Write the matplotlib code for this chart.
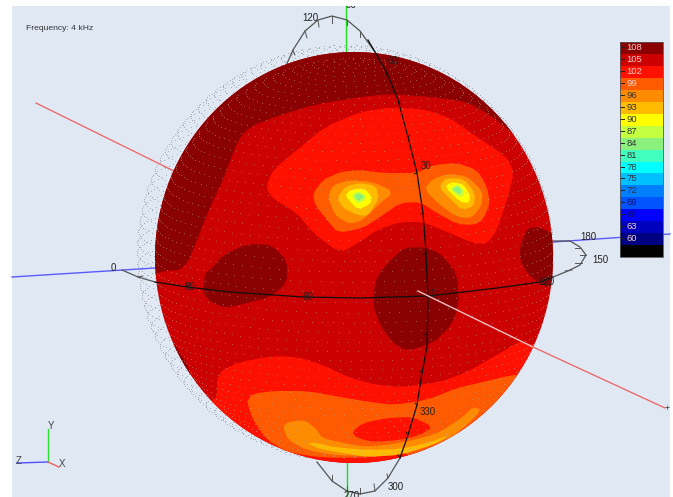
import numpy as np
import matplotlib
matplotlib.use("Agg")
import matplotlib.pyplot as plt
from matplotlib.patches import Ellipse, Rectangle, Polygon

plt.rcParams["font.family"] = ["Liberation Sans", "DejaVu Sans"]

# colour scale
levels = [108, 105, 102, 99, 96, 93, 90, 87, 84, 81, 78, 75, 72, 69, 66, 63, 60]
level_colors = ["#8b0000", "#cc0000", "#ff1100", "#ff5a00", "#ff8c00", "#ffbb00", "#ffff00",
                "#c4ff40", "#8cf07c", "#40ffbf", "#00ffff", "#00bfff", "#0080ff", "#0055ff",
                "#0000ff", "#0000bf", "#000080"]
color_of = dict(zip(levels, level_colors))
light_labels = [108, 105, 102, 99, 63, 60]

# contour regions (level, outline in image pixels)
dark_top = [(140, 290), (155, 274), (165, 271), (180, 270), (188, 262), (195, 245), (210, 207), (223, 180),
            (238, 140), (250, 127), (277, 116), (313, 105), (360, 97), (390, 94), (433, 97), (467, 102),
            (490, 115), (517, 137), (537, 163), (545, 187), (552, 213), (570, 220), (570, 30), (130, 30)]
dark_left_blob = [(205, 273), (210, 270), (223, 255), (247, 244), (272, 245), (287, 261), (287, 283), (270, 297),
                  (247, 303), (227, 308), (212, 303), (203, 293)]
dark_centre_blob = [(383, 268), (403, 248), (423, 247), (440, 253), (457, 273), (459, 307), (450, 327), (433, 343),
                    (407, 351), (393, 343), (380, 325), (373, 305), (375, 282)]
dark_right_blob = [(520, 247), (527, 228), (540, 227), (560, 238), (560, 285), (543, 287), (527, 273), (520, 260)]
dark_low_blob = [(165, 337), (177, 347), (190, 370), (190, 385), (170, 385), (150, 350)]

red_upper = [(360, 112), (393, 107), (427, 110), (450, 118), (477, 137), (507, 157), (514, 173), (507, 200),
             (497, 230), (487, 244), (473, 243), (447, 232), (423, 222), (400, 222), (377, 230), (360, 242),
             (340, 253), (313, 233), (297, 213), (272, 198), (266, 187), (273, 170), (297, 150), (325, 127)]
red_lower = [(205, 402), (208, 402), (217, 397), (217, 380), (222, 370), (240, 362), (273, 356), (297, 357),
             (323, 365), (350, 378), (377, 385), (403, 387), (440, 382), (467, 372), (497, 355), (520, 341),
             (533, 345), (600, 350), (600, 520), (120, 520), (120, 402)]
orange_red_lower = [(247, 402), (252, 394), (273, 391), (307, 391), (340, 397), (370, 402), (393, 405), (427, 400),
                    (457, 388), (483, 382), (512, 375), (530, 375), (500, 440), (410, 456), (400, 451), (373, 457),
                    (340, 458), (317, 457), (287, 452), (267, 440), (253, 420)]
orange_red_peak = [(313, 193), (323, 180), (340, 172), (360, 170), (383, 173), (417, 173), (433, 165), (457, 163),
                   (477, 170), (487, 187), (490, 203), (483, 220), (473, 225), (457, 224), (437, 213), (420, 202),
                   (400, 203), (380, 217), (363, 228), (338, 233), (327, 220), (315, 205)]
red_island = [(352, 432), (363, 423), (387, 418), (413, 417), (433, 427), (420, 435), (400, 440), (373, 442), (357, 438)]

orange_left = [(328, 197), (333, 185), (350, 180), (373, 182), (394, 192), (378, 205), (363, 220), (350, 224),
               (337, 217), (332, 208)]
orange_right = [(424, 189), (433, 179), (447, 174), (467, 176), (483, 192), (481, 207), (471, 218), (457, 217), (440, 205)]
orange_lower = [(283, 427), (288, 422), (305, 420), (317, 430), (322, 438), (343, 443), (367, 447), (400, 443),
                (425, 437), (440, 432), (463, 417), (473, 407), (481, 410), (470, 422), (453, 436), (433, 445),
                (397, 453), (367, 456), (333, 455), (307, 450), (288, 440)]
amber_left = [(337, 198), (346, 186), (360, 183), (376, 186), (379, 198), (368, 216), (357, 215), (343, 208)]
amber_right = [(439, 187), (446, 178), (464, 179), (475, 193), (474, 206), (462, 210), (450, 199)]
amber_lower = [(307, 443), (317, 443), (333, 447), (367, 450), (400, 449), (427, 443), (450, 435), (433, 445),
               (400, 455), (367, 457), (343, 453), (320, 449)]
yellow_left = [(345, 196), (350, 190), (364, 188), (372, 197), (370, 204), (358, 210)]
yellow_right = [(445, 187), (451, 182), (463, 184), (470, 195), (469, 203), (460, 202)]
lime_left = [(351, 196), (358, 191), (366, 196), (365, 200), (358, 204)]
lime_right = [(450, 189), (457, 184), (464, 190), (463, 196), (459, 197)]
green_left = [(354, 196), (358, 193), (364, 196), (363, 198), (358, 201)]
green_right = [(452, 190), (457, 186), (462, 190), (460, 194)]

regions = [(108, dark_top), (108, dark_left_blob), (108, dark_centre_blob), (108, dark_right_blob), (108, dark_low_blob),
           (102, red_upper), (102, red_lower), (99, orange_red_lower), (99, orange_red_peak), (102, red_island),
           (96, orange_left), (96, orange_right), (96, orange_lower), (93, amber_left), (93, amber_right),
           (93, amber_lower), (90, yellow_left), (90, yellow_right), (87, lime_left), (87, lime_right),
           (84, green_left), (84, green_right)]

# polar curves and axis lines
meridian_back = [(285, 68), (293, 50), (305, 31), (318, 20), (332, 16), (347, 20), (360, 31), (375, 52)]
meridian_front = [(368, 40), (375, 52), (387, 73), (398, 100), (408, 137), (417, 173), (423, 213), (426, 253),
                  (428, 297), (427, 347), (422, 373), (417, 405), (408, 435), (400, 458)]
meridian_low = [(400, 458), (388, 478), (375, 491), (360, 494), (347, 491), (332, 481), (317, 462)]
equator_left = [(122, 270), (138, 277), (155, 282)]
equator_front = [(155, 282), (187, 287), (230, 292), (303, 297), (360, 298), (428, 296), (463, 292), (497, 288),
                 (540, 282), (553, 277)]
equator_right = [(553, 277), (568, 271), (580, 265), (586, 255), (580, 247), (570, 241), (553, 241)]
grey_ticks = [((293, 50), (295, 55)), ((305, 31), (307, 38)), ((318, 20), (319, 27)), ((332, 16), (332, 23)),
              ((347, 20), (347, 25)), ((360, 31), (360, 37)), ((332, 481), (332, 475)), ((347, 491), (347, 486)),
              ((360, 494), (360, 488)), ((375, 491), (374, 484)), ((388, 478), (387, 474)), ((580, 248), (575, 248)),
              ((586, 255), (580, 255)), ((582, 263), (575, 263)), ((572, 270), (565, 271)), ((138, 277), (143, 276))]
black_ticks = [((387, 73), (385, 76)), ((398, 100), (400, 104)), ((408, 137), (410, 135)), ((417, 173), (414, 174)),
               ((423, 213), (421, 214)), ((426, 253), (423, 254)), ((427, 335), (424, 334)), ((422, 373), (420, 371)),
               ((417, 405), (415, 403)), ((408, 435), (406, 432)), ((400, 458), (398, 455)), ((187, 287), (186, 284)),
               ((463, 292), (463, 289)), ((497, 288), (497, 285)), ((525, 284), (525, 281))]

polar_labels = [("90", 351, 5), ("120", 310, 18), ("60", 393, 61), ("30", 426, 166), ("0", 433, 294), ("330", 428, 412),
                ("300", 396, 487), ("270", 352, 496), ("0", 113, 268), ("30", 190, 287), ("60", 308, 297),
                ("120", 546, 282), ("180", 588, 237), ("150", 600, 260)]

fig = plt.figure(figsize=(6.73, 4.97), dpi=100)
ax = fig.add_axes([0, 0, 1, 1])
ax.set_xlim(0, 673)
ax.set_ylim(497, 0)
ax.axis("off")

panel = Rectangle((12, 6), 658, 491, facecolor="#dfe8f3", edgecolor="none", zorder=0)
ax.add_patch(panel)


def sphere_grid(cx, cy, r, step):
    # sample points of the result sphere, about the same spacing everywhere
    xs, ys, zs = [], [], []
    for lat_deg in np.arange(-90 + step, 90, step):
        lat = np.radians(lat_deg)
        count = max(int(360 / step * np.cos(lat)), 1)
        lon = np.arange(count) * 2 * np.pi / count + lat_deg
        xs.append(np.cos(lat) * np.sin(lon))
        ys.append(np.full(count, np.sin(lat)))
        zs.append(np.cos(lat) * np.cos(lon))
    x, y, z = np.concatenate(xs), np.concatenate(ys), np.concatenate(zs)
    t = np.radians(10)
    y2 = y * np.cos(t) - z * np.sin(t)
    z2 = y * np.sin(t) + z * np.cos(t)
    return cx + r * x, cy - r * y2, z2


def smooth(outline):
    # one round of corner cutting, the contour edges in the picture are soft
    pts = np.array(outline, dtype=float)
    nxt = np.roll(pts, -1, axis=0)
    return np.column_stack([0.8 * pts + 0.2 * nxt, 0.2 * pts + 0.8 * nxt]).reshape(-1, 2)


# halo of sample points behind the sphere
hx, hy, _ = sphere_grid(345, 253, 208, 3)
ax.scatter(hx, hy, s=0.5, color="#a6acb3", linewidths=0, zorder=1)

# axis lines behind the sphere
ax.plot([12, 155], [277, 268], color="#5a5aff", lw=1, zorder=2)
ax.plot([553, 670], [242, 234], color="#5a5aff", lw=1, zorder=2)
ax.plot([346, 346], [6, 52], color="#20e020", lw=1, zorder=2)
ax.plot([347, 347], [463, 497], color="#20e020", lw=1, zorder=2)
ax.plot([36, 178], [103, 173], color="#f06060", lw=0.9, zorder=2)
for curve in (meridian_back, meridian_low, equator_left, equator_right):
    ax.plot(*zip(*curve), color="#555555", lw=0.9, zorder=2)
for a, b in grey_ticks:
    ax.plot(*zip(a, b), color="#555555", lw=0.7, zorder=2)

# sphere and its contour bands
sphere = Ellipse((354, 257.5), 398, 411, facecolor=color_of[105], edgecolor="none", zorder=3)
ax.add_patch(sphere)
for level, outline in regions:
    band = Polygon(smooth(outline), closed=True, facecolor=color_of[level], edgecolor="none", zorder=4)
    ax.add_patch(band)
    band.set_clip_path(sphere)

fx, fy, fz = sphere_grid(354, 257.5, 200, 3)
front = fz > 0
dots = ax.scatter(fx[front], fy[front], s=0.7, color="#b8a890", linewidths=0, alpha=0.55, zorder=5)
dots.set_clip_path(sphere)

# curves and axis over the sphere
ax.plot(*zip(*meridian_front), color="#101010", lw=0.9, zorder=6)
ax.plot(*zip(*equator_front), color="#101010", lw=0.9, zorder=6)
for a, b in black_ticks:
    ax.plot(*zip(a, b), color="#101010", lw=0.6, zorder=6)
ax.plot([418, 533], [291, 347], color="#f4c0c0", lw=1, zorder=6)
ax.plot([533, 665], [347, 408], color="#f06060", lw=0.9, zorder=6)
ax.text(667, 408, "+", fontsize=6.5, color="#333333", ha="center", va="center", zorder=7)

for label, x, y in polar_labels:
    t = ax.text(x, y, label, fontsize=7, color="#222222", ha="center", va="center", zorder=7)
    t.set_clip_on(True)
    t.set_clip_path(panel)

ax.text(26, 29, "Frequency: 4 kHz", fontsize=6.1, color="#333333", ha="left", va="center", zorder=7)

# triad, bottom left
ax.plot([48, 48], [462, 429], color="#30e030", lw=1, zorder=2)
ax.plot([48, 17], [462, 463], color="#5050ff", lw=1, zorder=2)
ax.plot([48, 59], [462, 467], color="#f06060", lw=1, zorder=2)
for label, x, y in (("Y", 51, 426), ("Z", 19, 461), ("X", 62, 464)):
    ax.text(x, y, label, fontsize=7, color="#444444", ha="center", va="center", zorder=7)

# colour bar
bar_left, bar_top, bar_width, band_height = 619.5, 42, 43, 11.95
for i, (level, colour) in enumerate(zip(levels, level_colors)):
    top = bar_top + i * band_height
    ax.add_patch(Rectangle((bar_left, top), bar_width, band_height, facecolor=colour, edgecolor="none", zorder=8))
    text_colour = "#f0d0d0" if level in light_labels else "#333333"
    if level in (69, 66):
        text_colour = "#101070"
    ax.plot([bar_left, bar_left + 4], [top + 5, top + 5], color="#222222", lw=0.7, zorder=9)
    ax.text(bar_left + 7, top + 5.5, str(level), fontsize=6.8, color=text_colour, ha="left", va="center", zorder=9)
ax.add_patch(Rectangle((bar_left, bar_top + 17 * band_height), bar_width, band_height, facecolor="black",
                       edgecolor="none", zorder=8))
ax.add_patch(Rectangle((bar_left, bar_top), bar_width, 18 * band_height, facecolor="none", edgecolor="#555555",
                       lw=0.6, zorder=9))

fig.savefig("out.png", dpi=100, facecolor="white")
